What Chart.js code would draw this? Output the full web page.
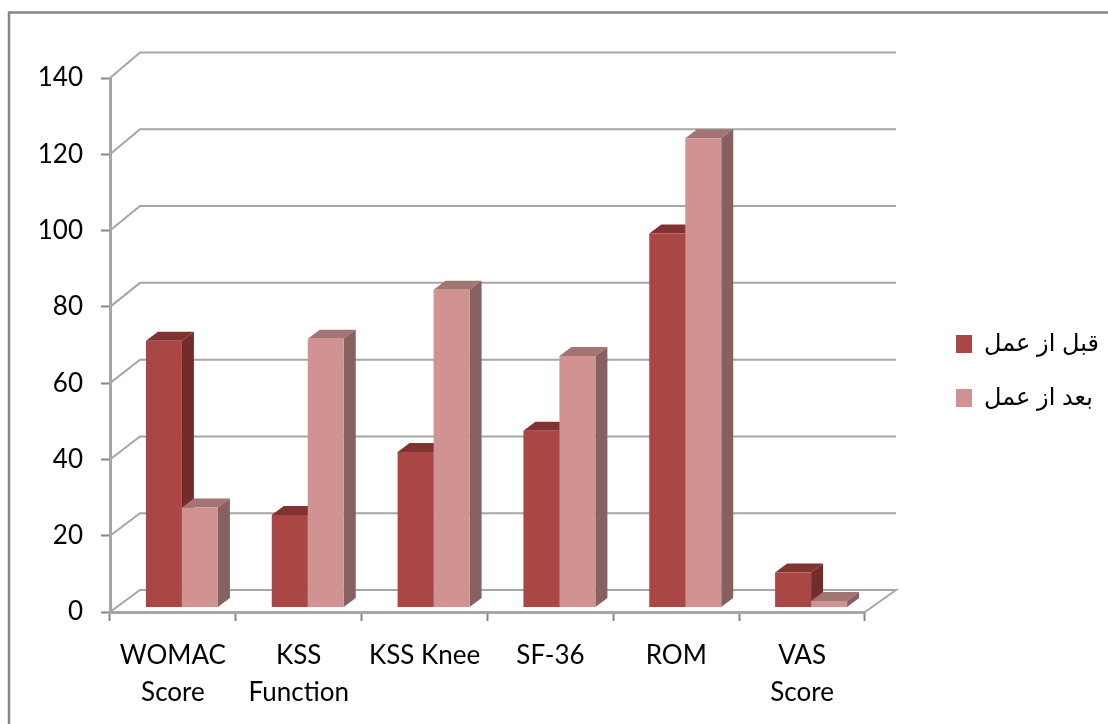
<!DOCTYPE html>
<html>
<head>
<meta charset="utf-8">
<style>
  html, body { margin: 0; padding: 0; background: #fff; }
  canvas { display: block; }
</style>
<script src="https://cdn.jsdelivr.net/npm/chart.js@4"></script>
</head>
<body>
<canvas id="chart" width="1108" height="724"></canvas>
<script>
const categories = [['WOMAC', 'Score'], ['KSS', 'Function'], 'KSS Knee', 'SF-36', 'ROM', ['VAS', 'Score']];
const seriesNames = ['قبل از عمل', 'بعد از عمل'];
const beforeValues = [69.5, 24, 40.5, 46, 97.5, 9];
const afterValues = [26, 70, 82.8, 65.5, 122.4, 1.6];

// 3D look: Chart.js has no 3D bars, so the faces are added by this plugin
const gridColor = '#a6a6a6';
const faceColors = [
  { top: '#803331', side: '#722d2b' },
  { top: '#a37474', side: '#876060' }
];

const fake3d = {
  id: 'fake3d',
  beforeDraw(chart) {
    // frame only shows on the top and left
    const ctx = chart.ctx;
    ctx.save();
    ctx.strokeStyle = '#868686';
    ctx.lineWidth = 2.5;
    ctx.beginPath();
    ctx.moveTo(9, 724);
    ctx.lineTo(9, 12.5);
    ctx.lineTo(1108, 12.5);
    ctx.stroke();
    ctx.restore();
  },
  afterLayout(chart) {
    // legend sits further right and higher than Chart.js would put it
    const legend = chart.legend;
    const w = legend.width, h = legend.height;
    legend.left = 926;
    legend.right = 926 + w;
    legend.top -= 30;
    legend.bottom = legend.top + h;
  },
  beforeDatasetsDraw(chart) {
    const ctx = chart.ctx;
    const area = chart.chartArea;
    const yScale = chart.scales.y;

    ctx.save();
    ctx.strokeStyle = gridColor;
    ctx.lineWidth = 2;
    yScale.ticks.forEach(t => {
      const y = yScale.getPixelForValue(t.value);
      const backY = y - 22 - t.value * 0.025;
      ctx.beginPath();
      ctx.moveTo(area.left, y);
      ctx.lineTo(area.left + 30, backY);
      ctx.lineTo(area.right + 31, backY);
      if (t.value === 0) ctx.lineTo(area.right, y);
      ctx.stroke();
    });
    ctx.restore();

    // bars sit a bit inside the floor
    ctx.save();
    ctx.translate(9, 0);
    const dx = 12, dy = 9;
    chart.data.datasets.forEach((ds, i) => {
      chart.getDatasetMeta(i).data.forEach(bar => {
        const { x, y, base, width } = bar.getProps(['x', 'y', 'base', 'width']);
        const l = x - width / 2, r = x + width / 2;
        ctx.fillStyle = faceColors[i].top;
        ctx.beginPath();
        ctx.moveTo(l, y);
        ctx.lineTo(l + dx, y - dy);
        ctx.lineTo(r + dx, y - dy);
        ctx.lineTo(r, y);
        ctx.fill();
        ctx.fillStyle = faceColors[i].side;
        ctx.beginPath();
        ctx.moveTo(r, y);
        ctx.lineTo(r + dx, y - dy);
        ctx.lineTo(r + dx, base - dy);
        ctx.lineTo(r, base);
        ctx.fill();
      });
    });
  },
  afterDatasetsDraw(chart) {
    chart.ctx.restore();
  }
};

const chart = new Chart(document.getElementById('chart'), {
  type: 'bar',
  data: {
    labels: categories,
    datasets: [
      { label: seriesNames[0], data: beforeValues, backgroundColor: '#aa4643', yAxisID: 'yBars' },
      { label: seriesNames[1], data: afterValues, backgroundColor: '#d19392', yAxisID: 'yBars' }
    ]
  },
  plugins: [fake3d],
  options: {
    responsive: false,
    animation: false,
    layout: { padding: { top: 78, right: 100, bottom: 0, left: 0 } },
    datasets: { bar: { categoryPercentage: 0.572, barPercentage: 1 } },
    scales: {
      x: {
        grid: { drawOnChartArea: false, tickLength: 9, tickColor: '#868686', tickWidth: 2 },
        border: { color: gridColor, width: 3 },
        ticks: { color: '#000', font: { family: 'Lato', size: 26, lineHeight: 1.42 }, padding: 16, maxRotation: 0, autoSkip: false },
        afterFit(scale) { scale.height = 112; }
      },
      y: {
        min: 0,
        max: 140,
        ticks: { stepSize: 20, color: '#000', font: { family: 'Lato', size: 26 }, padding: 18 },
        grid: { drawOnChartArea: false, tickLength: 9, tickColor: '#868686', tickWidth: 2 },
        border: { color: gridColor, width: 3 },
        afterFit(scale) { scale.width = 110; }
      },
      // bars stand on a plane set back from the axis plane
      yBars: { display: false, min: -1.3, max: 138.1 }
    },
    plugins: {
      title: { display: false },
      tooltip: { enabled: false },
      legend: {
        position: 'right',
        labels: {
          boxWidth: 16,
          boxHeight: 18,
          padding: 30,
          color: '#000',
          font: { family: '"Liberation Sans", "DejaVu Sans"', size: 24 }
        }
      }
    }
  }
});

// keep the plot's right edge where it belongs whatever width the legend takes
chart.options.layout.padding.right = 243 - chart.legend.width;
chart.update('none');
</script>
</body>
</html>
